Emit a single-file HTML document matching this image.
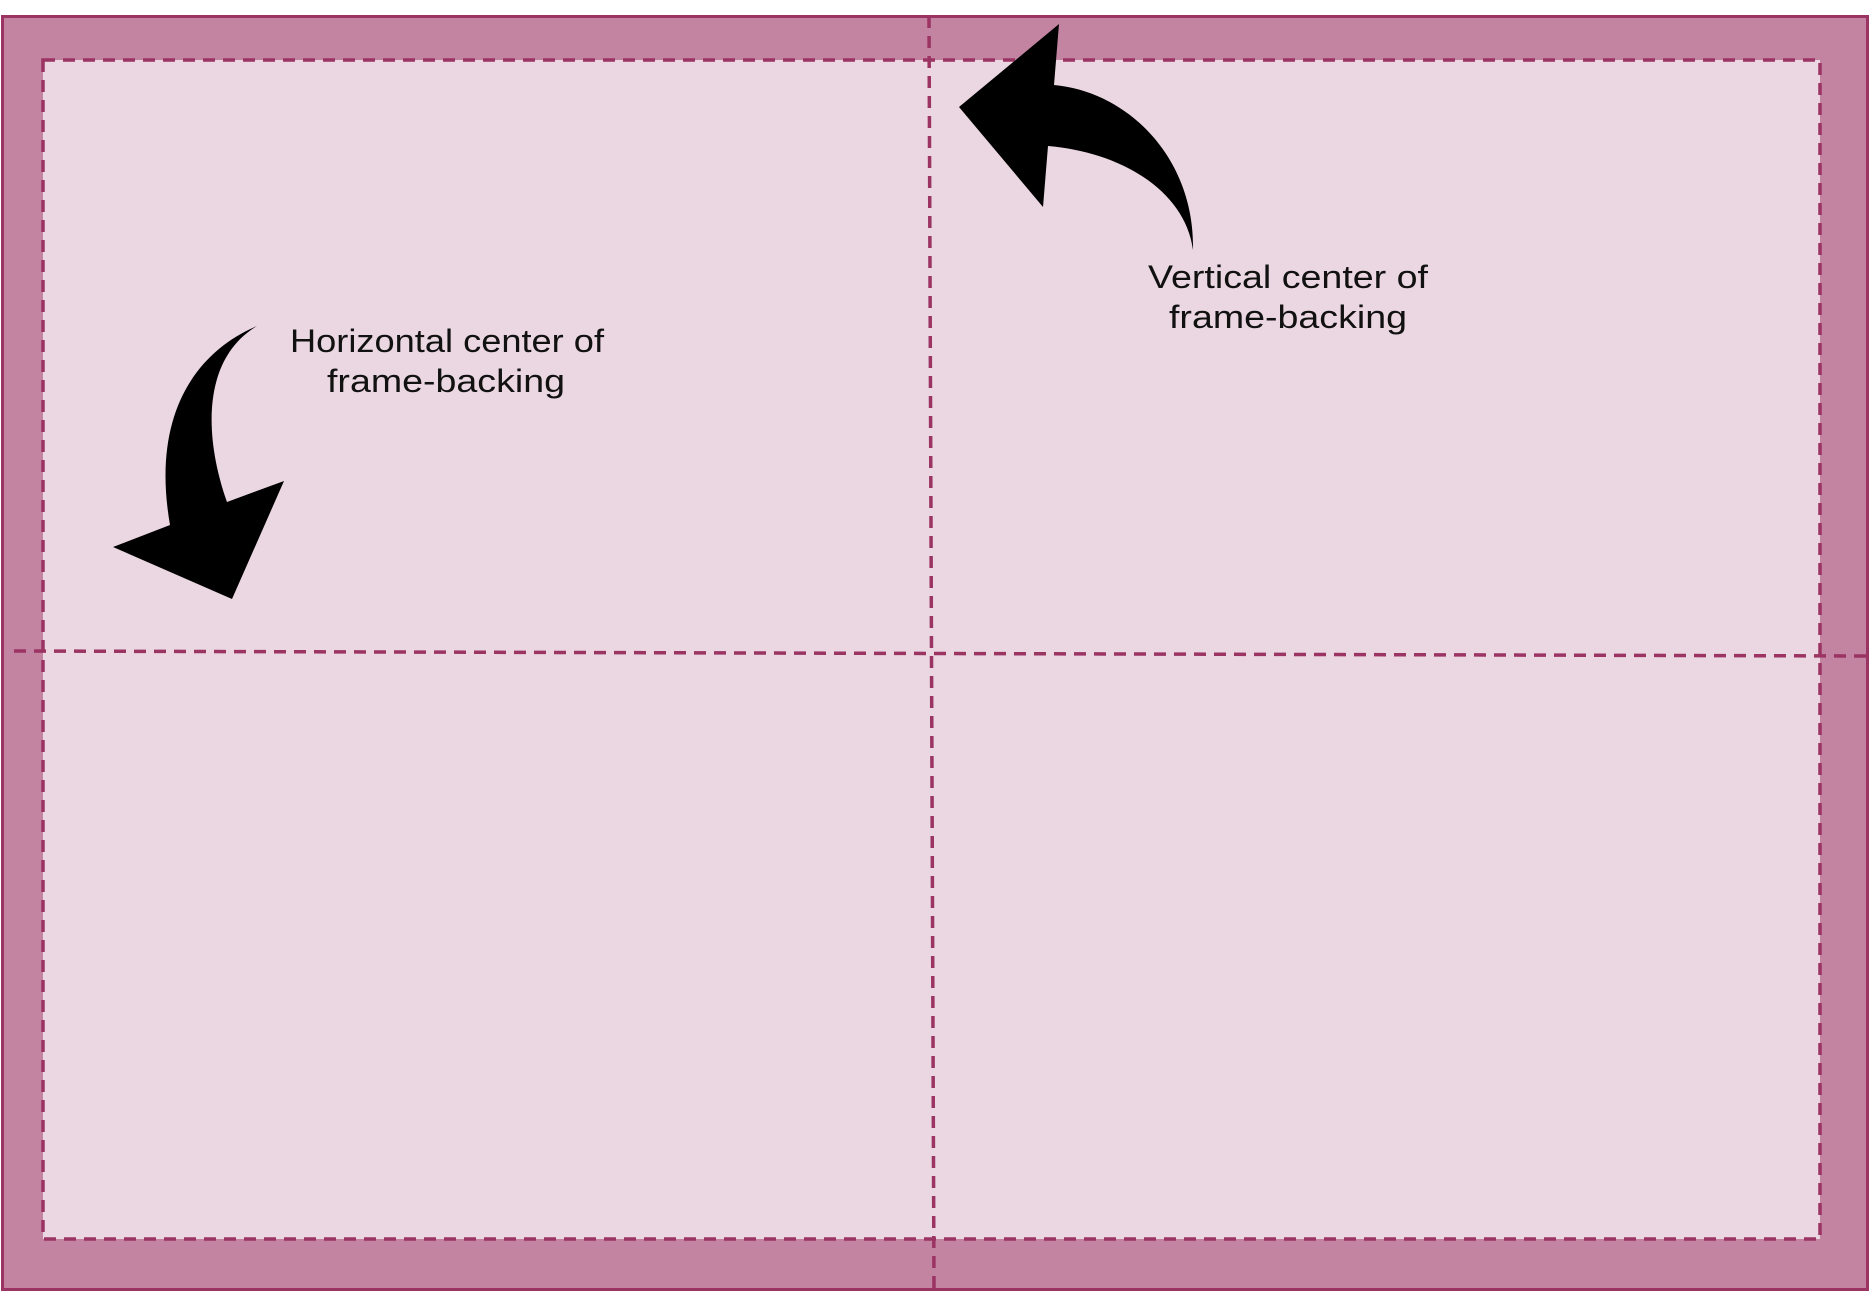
<!DOCTYPE html>
<html><head><meta charset="utf-8"><style>html,body{margin:0;padding:0;background:#fff}svg{display:block}</style></head>
<body>
<svg width="1870" height="1294" viewBox="0 0 1870 1294" xmlns="http://www.w3.org/2000/svg">
<rect x="2.5" y="16.5" width="1865" height="1273" fill="#c384a2" stroke="#9b3363" stroke-width="3"/>
<rect x="43" y="60" width="1777" height="1179" fill="#ebd7e1" stroke="#9b3363" stroke-width="3.5" stroke-dasharray="12,8"/>
<line x1="929" y1="16" x2="934" y2="1292" stroke="#9b3363" stroke-width="3.5" stroke-dasharray="12,8"/>
<line x1="14" y1="651" x2="1868" y2="656" stroke="#9b3363" stroke-width="3.5" stroke-dasharray="12,8"/>
<path d="M1059,24 L959,107 L1043,207 L1048,146 C1120,152 1185,190 1193,250 C1195,160 1130,92 1054,85 Z" fill="#000"/>
<path d="M257,326 C200,350 150,410 170,525 L113,547 L232,599 L284,481 L227,502 C205,440 200,360 257,326 Z" fill="#000"/>
<g font-family="Liberation Sans, sans-serif" font-size="32" fill="#111" text-anchor="middle">
<text x="447" y="352" textLength="314" lengthAdjust="spacingAndGlyphs">Horizontal center of</text>
<text x="446" y="392" textLength="238" lengthAdjust="spacingAndGlyphs">frame-backing</text>
<text x="1288" y="288" textLength="280" lengthAdjust="spacingAndGlyphs">Vertical center of</text>
<text x="1288" y="328" textLength="238" lengthAdjust="spacingAndGlyphs">frame-backing</text>
</g>
</svg>
</body></html>
